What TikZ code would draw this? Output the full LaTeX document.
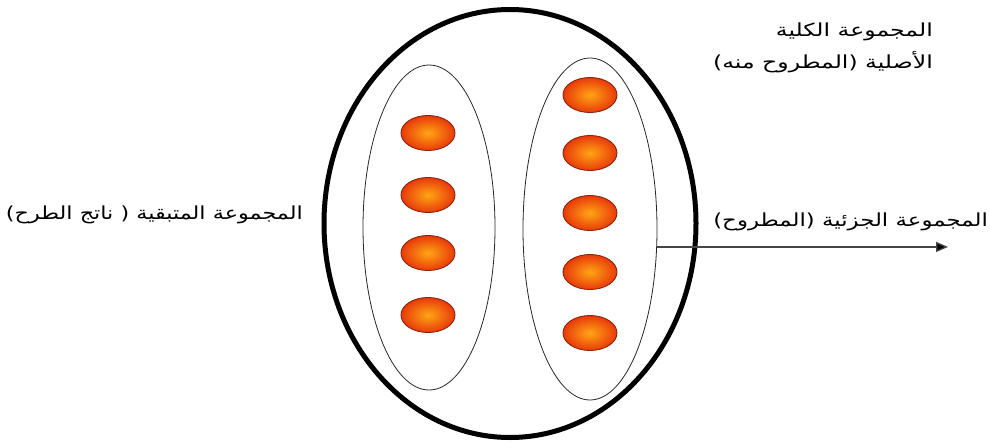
\documentclass[tikz,border=0pt]{standalone}
\usepackage{fontspec}
\usepackage{graphicx}
\usetikzlibrary{shapes.geometric,arrows.meta}
\TeXXeTstate=1
\newfontfamily\arabicfont[Script=Arabic]{DejaVu Sans}
\newcommand{\artxt}[2][1.27]{\scalebox{#1}[1]{\beginR #2\endR}}
\definecolor{ballin}{RGB}{255,165,20}
\definecolor{ballout}{RGB}{232,58,10}
\definecolor{ballrim}{RGB}{140,35,10}
\definecolor{arrowgray}{RGB}{70,70,70}
\tikzset{
  bigset/.style={ellipse, draw=black, line width=5pt, inner sep=0pt},
  subset/.style={ellipse, draw=black!85, line width=0.8pt, inner sep=0pt},
  ball/.style={ellipse, draw=ballrim, line width=0.9pt, inner sep=0pt,
    minimum width=54pt, minimum height=35pt,
    inner color=ballin, outer color=ballout},
  lbl/.style={anchor=east, inner sep=0pt, font=\arabicfont\fontsize{18}{21}\selectfont},
  conn/.style={draw=arrowgray, line width=1.3pt, -{Triangle[length=12pt,width=10pt,fill=black]}}
}
\begin{document}
\begin{tikzpicture}[x=1pt,y=-1pt]
\useasboundingbox (0,0) rectangle (990,447);
\node[bigset, minimum width=372pt, minimum height=428pt] (big) at (510,223.5) {};
\node[subset, minimum width=132pt, minimum height=325pt] (left) at (429,227.5) {};
\node[subset, minimum width=134pt, minimum height=342pt] (right) at (590,229) {};
% balls in left subset
\node[ball] (l1) at (428,133) {};
\node[ball] (l2) at (428,195) {};
\node[ball] (l3) at (428,253) {};
\node[ball] (l4) at (428,315) {};
% balls in right subset
\node[ball] (r1) at (590,95) {};
\node[ball] (r2) at (590,153) {};
\node[ball] (r3) at (590,213) {};
\node[ball] (r4) at (590,272) {};
\node[ball] (r5) at (590,333) {};
% arrow
\coordinate (tip) at (948,248);
\draw[conn] (right.-15.8) -- (right.-15.8 -| tip);
% labels
\node[lbl] (t1) at (933,32) {\artxt[1.31]{المجموعة الكلية}};
\node[lbl] (t2) at (933,62) {\artxt[1.31]{الأصلية (المطروح منه)}};
\node[lbl] (lt) at (303,215) {\artxt[1.24]{المجموعة المتبقية ( ناتج الطرح)}};
\node[lbl] (rt) at (988,222) {\artxt{المجموعة الجزئية (المطروح)}};
\end{tikzpicture}
\end{document}
